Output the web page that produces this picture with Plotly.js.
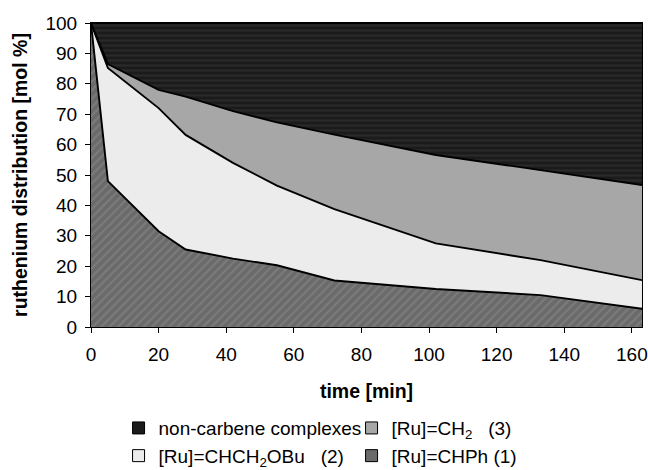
<!DOCTYPE html>
<html>
<head>
<meta charset="utf-8">
<script src="https://cdn.plot.ly/plotly-3.0.1.min.js"></script>
<style>html,body{margin:0;padding:0;background:#fff;}#chart{width:648px;height:470px;}</style>
</head>
<body>
<div id="chart"></div>
<script>
// time points [min]
const timeMin = [0, 5, 20, 28, 42, 55, 72, 102, 133, 163];
// ruthenium distribution [mol %] per species (stacked)
const chPh      = [100, 48, 31.5, 25.5, 22.5, 20.3, 15.3, 12.5, 10.5, 6];
const chCH2OBu  = [0, 37.2, 40.5, 37.7, 31.5, 26.2, 23.5, 15, 11.5, 9.4];
const ch2       = [0, 1.3, 6, 12.6, 17, 20.8, 24.5, 29.1, 29.6, 31.3];
const nonCarb   = [0, 13.5, 22, 24.2, 29, 32.7, 36.7, 43.4, 48.4, 53.3];

const names = {
  nonCarb: 'non-carbene complexes',
  ch2: '[Ru]=CH<sub>2</sub>   (3)',
  chCH2OBu: '[Ru]=CHCH<sub>2</sub>OBu   (2)',
  chPh: '[Ru]=CHPh (1)'
};
const colors = {nonCarb:'#1b1b1b', ch2:'#a7a7a7', chCH2OBu:'#ececec', chPh:'#6a6a6a'};

function area(y, key, pattern){
  const t = {
    x: timeMin, y: y, type:'scatter', mode:'lines', stackgroup:'one',
    line:{color:'#000', width:1.9, shape:'linear'},
    fillcolor: colors[key], showlegend:false, hoverinfo:'skip'
  };
  if (pattern) t.fillpattern = pattern;
  return t;
}
function legendItem(key){
  return {x:[null], y:[null], type:'scatter', mode:'markers', name:names[key],
    marker:{symbol:'square', size:12, color:colors[key], line:{color:'#000', width:1}}};
}

const data = [
  area(chPh, 'chPh', {shape:'/', bgcolor:'#6a6a6a', fgcolor:'#7c7c7c', size:6, solidity:0.35}),
  area(chCH2OBu, 'chCH2OBu'),
  area(ch2, 'ch2'),
  area(nonCarb, 'nonCarb', {shape:'-', bgcolor:'#1b1b1b', fgcolor:'#2a2a2a', size:5, solidity:0.4}),
  legendItem('nonCarb'), legendItem('ch2'), legendItem('chCH2OBu'), legendItem('chPh')
];

const layout = {
  width:648, height:470,
  margin:{l:91, r:6, t:23, b:143, autoexpand:false},
  paper_bgcolor:'#fff', plot_bgcolor:'#fff',
  font:{family:'Liberation Sans, Arial, sans-serif', size:19, color:'#000'},
  xaxis:{range:[0,163], tickvals:[0,20,40,60,80,100,120,140,160], ticks:'outside', ticklen:5,
    tickcolor:'#000', showgrid:false, zeroline:false, showline:true, linecolor:'#000', linewidth:1,
    mirror:true, tickfont:{size:19}, ticklabelstandoff:5,
    title:{text:'<b>time [min]</b>', font:{size:19.5}, standoff:20}},
  yaxis:{range:[0,100], dtick:10, ticks:'outside', ticklen:5, tickcolor:'#000', showgrid:false,
    zeroline:false, showline:true, linecolor:'#000', linewidth:1, mirror:true, tickfont:{size:19},
    ticklabelstandoff:4,
    title:{text:'<b>ruthenium distribution [mol %]</b>', font:{size:19.5}, standoff:12}},
  showlegend:true,
  legend:{orientation:'h', x:0.05, xanchor:'left', y:-0.27, yanchor:'top',
    entrywidth:188, entrywidthmode:'pixels', itemwidth:30, tracegroupgap:0, traceorder:'normal',
    font:{size:19}, bgcolor:'rgba(0,0,0,0)'}
};
Plotly.newPlot('chart', data, layout, {staticPlot:true, displayModeBar:false});
</script>
</body>
</html>
